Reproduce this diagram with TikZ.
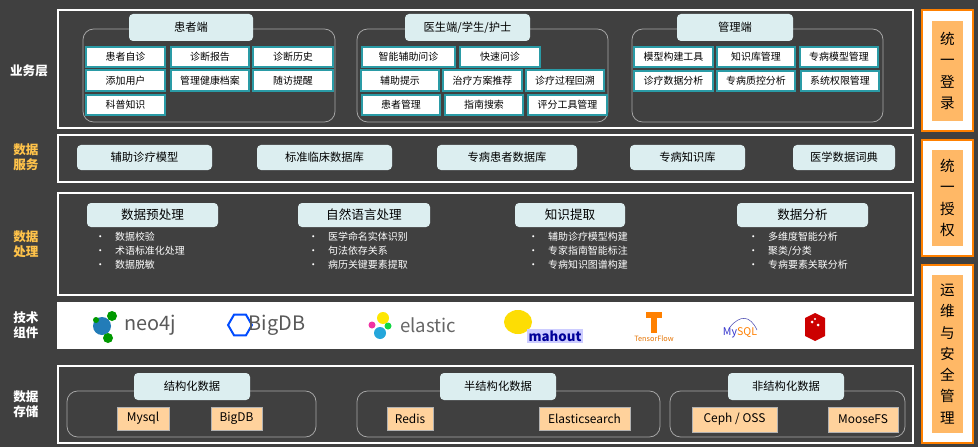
\documentclass[tikz,border=0pt]{standalone}
\usepackage{fontspec}
\setmainfont{Noto Sans CJK SC}
\usetikzlibrary{shapes.geometric}
\definecolor{bg}{HTML}{404040}
\definecolor{hdr}{HTML}{DCEEF0}
\definecolor{teal}{HTML}{2A9BA6}
\definecolor{org}{HTML}{FFB866}
\definecolor{stor}{HTML}{FFD29C}
\definecolor{lbl}{HTML}{FFC34A}
\begin{document}
\begin{tikzpicture}[x=0.0265cm,y=-0.0265cm,
  layer/.style={draw=white,line width=0.8pt},
  grp/.style={draw=gray!70,rounded corners=8pt,line width=0.6pt},
  hd/.style={fill=hdr,rounded corners=3pt,font=\fontsize{8.5}{9}\selectfont,text=black},
  it/.style={fill=white,draw=teal,line width=0.8pt,font=\fontsize{7.5}{8}\selectfont,text=black,inner sep=0pt},
  st/.style={fill=stor,draw=gray!60,line width=0.4pt,font=\fontsize{9}{9}\selectfont,text=black,inner sep=0pt},
  ll/.style={font=\bfseries\fontsize{9.5}{11}\selectfont,align=center},
  bl/.style={text=white,font=\fontsize{7.5}{10.5}\selectfont,align=left,anchor=north west,inner sep=0pt},
  rc/.style={fill=org,font=\fontsize{11}{16}\selectfont,align=center,inner sep=0pt}]
\fill[bg] (0,0) rectangle (978,447);
\useasboundingbox (0,0) rectangle (978,447);
\newcommand\bxt[7]{\node[#1,minimum width={(#4-#3)*0.0265cm},minimum height={(#6-#5)*0.0265cm}] (#2) at ({(#3+#4)/2},{(#5+#6)/2}) {#7};}
% layers
\draw[layer] (58,10) rectangle (913,128);
\draw[layer] (58,135) rectangle (913,182);
\draw[layer] (58,193) rectangle (913,295);
\draw[layer,fill=white] (58,303) rectangle (913,348);
\draw[layer] (58,366) rectangle (913,443);
% left labels
\node[ll,text=white] (l1) at (29,71) {业务层};
\node[ll,text=lbl] (l2) at (26,157) {数据\\服务};
\node[ll,text=lbl] (l3) at (26,244) {数据\\处理};
\node[ll,text=white] (l4) at (26,325) {技术\\组件};
\node[ll,text=white] (l5) at (26,404) {数据\\存储};
% business groups
\draw[grp] (83,29) rectangle (335,122);
\draw[grp] (357,29) rectangle (608,122);
\draw[grp] (632,29) rectangle (883,122);
\bxt{hd}{h1}{129}{253}{14}{41}{患者端}
\bxt{hd}{h2}{405}{530}{14}{41}{医生端/学生/护士}
\bxt{hd}{h3}{677}{793}{14}{41}{管理端}
\bxt{it}{a1}{86}{165}{47}{67}{患者自诊}
\bxt{it}{a2}{171}{249}{47}{67}{诊断报告}
\bxt{it}{a3}{253}{333}{47}{67}{诊断历史}
\bxt{it}{a4}{86}{165}{70}{91}{添加用户}
\bxt{it}{a5}{171}{249}{70}{91}{管理健康档案}
\bxt{it}{a6}{253}{333}{70}{91}{随访提醒}
\bxt{it}{a7}{86}{165}{95}{115}{科普知识}
\bxt{it}{b1}{362}{455}{47}{67}{智能辅助问诊}
\bxt{it}{b2}{460}{540}{47}{67}{快速问诊}
\bxt{it}{b3}{361}{439}{70}{91}{辅助提示}
\bxt{it}{b4}{443}{522}{70}{91}{治疗方案推荐}
\bxt{it}{b5}{526}{604}{70}{91}{诊疗过程回溯}
\bxt{it}{b6}{362}{440}{95}{115}{患者管理}
\bxt{it}{b7}{445}{523}{95}{115}{指南搜索}
\bxt{it}{b8}{528}{607}{95}{115}{评分工具管理}
\bxt{it}{c1}{634}{713}{47}{67}{模型构建工具}
\bxt{it}{c2}{717}{795}{47}{67}{知识库管理}
\bxt{it}{c3}{800}{878}{47}{67}{专病模型管理}
\bxt{it}{c4}{634}{713}{71}{91}{诊疗数据分析}
\bxt{it}{c5}{717}{795}{71}{91}{专病质控分析}
\bxt{it}{c6}{801}{879}{71}{91}{系统权限管理}
% data services
\bxt{hd}{s1}{77}{212}{145}{170}{辅助诊疗模型}
\bxt{hd}{s2}{257}{392}{145}{170}{标准临床数据库}
\bxt{hd}{s3}{437}{577}{145}{170}{专病患者数据库}
\bxt{hd}{s4}{630}{745}{145}{170}{专病知识库}
\bxt{hd}{s5}{793}{895}{145}{170}{医学数据词典}
% processing
\bxt{hd,font=\fontsize{9.5}{10}\selectfont}{p1}{87}{218}{203}{227}{数据预处理}
\bxt{hd,font=\fontsize{9.5}{10}\selectfont}{p2}{298}{430}{203}{227}{自然语言处理}
\bxt{hd,font=\fontsize{9.5}{10}\selectfont}{p3}{515}{625}{203}{227}{知识提取}
\bxt{hd,font=\fontsize{9.5}{10}\selectfont}{p4}{737}{868}{203}{227}{数据分析}
\node[bl] (q1) at (95,232) {•\quad 数据校验\\•\quad 术语标准化处理\\•\quad 数据脱敏};
\node[bl] (q2) at (308,232) {•\quad 医学命名实体识别\\•\quad 句法依存关系\\•\quad 病历关键要素提取};
\node[bl] (q3) at (528,232) {•\quad 辅助诊疗模型构建\\•\quad 专家指南智能标注\\•\quad 专病知识图谱构建};
\node[bl] (q4) at (748,232) {•\quad 多维度智能分析\\•\quad 聚类/分类\\•\quad 专病要素关联分析};
% tech logos
\fill[teal!80!blue] (102,326) circle (9);
\fill[green!60!black] (112,316) circle (5);
\fill[green!60!black] (108,338) circle (5);
\fill[green!60!black] (96,320) circle (3);
\node[text=gray!70!black,font=\fontsize{15}{15}\selectfont] (t1) at (150,325) {neo4j};
\node[regular polygon,regular polygon sides=6,draw=blue!70!cyan,line width=1.5pt,minimum size=18pt,inner sep=0pt] (t2a) at (240,325) {};
\node[text=gray!70!black,font=\fontsize{15}{15}\selectfont] (t2) at (277,325) {BigDB};
\fill[yellow!90!orange] (383,318) circle (6);
\fill[cyan!70!teal] (380,333) circle (6);
\fill[magenta!80] (372,325) circle (3.5);
\fill[green!60!teal] (388,326) circle (3.5);
\node[text=gray!80!black,font=\fontsize{14}{14}\selectfont] (t3) at (428,325) {elastic};
\fill[yellow!80!orange] (518,322) ellipse (14 and 12);
\node[text=blue!60!black,font=\bfseries\fontsize{10}{10}\selectfont,fill=blue!20,inner sep=1pt] (t4) at (555,336) {mahout};
\fill[orange] (646,312) rectangle (662,318);
\fill[orange] (651,318) rectangle (657,333);
\node[text=orange!90!black,font=\fontsize{5.5}{6}\selectfont] (t5) at (654,339) {TensorFlow};
\node[font=\fontsize{8}{8}\selectfont] (t6) at (740,333) {\textcolor{blue!60!gray}{My}\textcolor{orange}{SQL}};
\draw[blue!40!gray,line width=0.4pt] (730,327) .. controls (740,315) and (750,315) .. (757,330);
\fill[red!80!black] (805,318) -- (815,313) -- (825,318) -- (825,336) -- (815,341) -- (805,336) -- cycle;
\fill[white] (812,322) circle (1.5) (818,325) circle (1.5) (815,319) circle (1.2);
% storage
\draw[grp] (67,391) rectangle (316,437);
\draw[grp] (357,391) rectangle (660,437);
\draw[grp] (670,391) rectangle (905,437);
\bxt{hd}{g1}{134}{250}{373}{400}{结构化数据}
\bxt{hd}{g2}{440}{556}{373}{400}{半结构化数据}
\bxt{hd}{g3}{728}{844}{373}{400}{非结构化数据}
\bxt{st}{d1}{117}{169}{407}{430}{Mysql}
\bxt{st}{d2}{211}{262}{407}{430}{BigDB}
\bxt{st}{d3}{387}{433}{407}{430}{Redis}
\bxt{st}{d4}{539}{630}{407}{430}{Elasticsearch}
\bxt{st}{d5}{692}{777}{407}{432}{Ceph / OSS}
\bxt{st}{d6}{828}{898}{407}{432}{MooseFS}
% right column
\foreach \a/\b in {10/131,140/256,265/443}{\draw[fill=white,draw=orange,line width=0.8pt] (922,\a) rectangle (973,\b);}
\bxt{rc}{r1}{932}{963}{21}{121}{统\\一\\登\\录}
\bxt{rc}{r2}{932}{963}{150}{246}{统\\一\\授\\权}
\bxt{rc}{r3}{932}{963}{275}{433}{运\\维\\与\\安\\全\\管\\理}
\end{tikzpicture}
\end{document}
